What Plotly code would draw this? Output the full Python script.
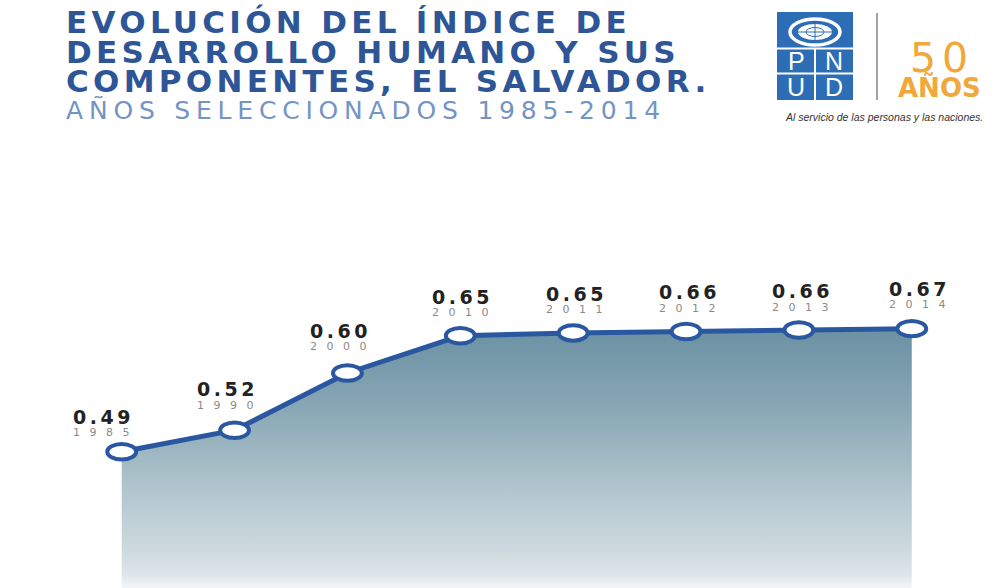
import plotly.graph_objects as go

# ---------------- data ----------------
years = ["1985", "1990", "2000", "2010", "2011", "2012", "2013", "2014"]
idh = [0.490, 0.520, 0.600, 0.652, 0.656, 0.658, 0.660, 0.662]
idh_labels = ["0.49", "0.52", "0.60", "0.65", "0.65", "0.66", "0.66", "0.67"]

title_lines = ["EVOLUCIÓN DEL ÍNDICE DE",
               "DESARROLLO HUMANO Y SUS",
               "COMPONENTES, EL SALVADOR."]
subtitle = "AÑOS SELECCIONADOS 1985-2014"
logo_letters = ["P", "N", "U", "D"]
logo_years = "50"
logo_word = "AÑOS"
tagline = "Al servicio de las personas y las naciones."

# ---------------- style ----------------
W, H = 998, 588
LINE_BLUE = "#2a58a0"
TITLE_BLUE = "#2e5596"
UN_BLUE = "#2d6db5"
ORANGE = "#f0a83a"

# label offsets (pixels) relative to each point (value cap-centre height above point)
label_dx = [-20, -9, -9, 0, 1, 1, 2, 6]
label_dy = [33, 39, 40, 37, 37, 37, 37, 38]


def px(x):
    return x / W


def py(y):
    return 1 - y / H


def spaced(text, spacing):
    """Letter-spaced text without trailing space after the last character."""
    head, tail = text[:-1], text[-1]
    return f"<span style='letter-spacing:{spacing}px'>{head}</span>{tail}"


xs = list(range(len(years)))

fig = go.Figure()

fig.add_trace(go.Scatter(
    x=xs, y=idh, mode="lines",
    line=dict(color=LINE_BLUE, width=5),
    fill="tozeroy",
    fillgradient=dict(
        type="vertical",
        colorscale=[[0.0, "#f3f6f7"], [0.05, "#dde6e9"], [0.15, "#cdd9de"],
                    [0.34, "#b6c9d0"], [0.53, "#9db6c1"], [0.72, "#85a5b4"],
                    [1.0, "#6b91a3"]],
        start=0.2995, stop=0.6625),
    hoverinfo="skip", showlegend=False,
))

shapes = []
# ellipse markers
for xi, v in zip(xs, idh):
    shapes.append(dict(type="circle", xref="x", yref="y",
                       x0=xi - 0.128, x1=xi + 0.128,
                       y0=v - 0.0108, y1=v + 0.0108,
                       line=dict(color=LINE_BLUE, width=4),
                       fillcolor="white", layer="above"))

# UNDP logo
shapes += [
    dict(type="rect", xref="paper", yref="paper", x0=px(777), x1=px(853),
         y0=py(100), y1=py(12), fillcolor=UN_BLUE, line=dict(width=0)),
    dict(type="circle", xref="paper", yref="paper", x0=px(790), x1=px(840),
         y0=py(45), y1=py(19), line=dict(color="white", width=3.5)),
    dict(type="circle", xref="paper", yref="paper", x0=px(798), x1=px(832),
         y0=py(40), y1=py(24), fillcolor="white", line=dict(width=0)),
    dict(type="circle", xref="paper", yref="paper", x0=px(806), x1=px(824),
         y0=py(36.5), y1=py(27.5), line=dict(color=UN_BLUE, width=1)),
    dict(type="line", xref="paper", yref="paper", x0=px(798), x1=px(832),
         y0=py(32), y1=py(32), line=dict(color=UN_BLUE, width=1)),
    dict(type="line", xref="paper", yref="paper", x0=px(815), x1=px(815),
         y0=py(24), y1=py(40), line=dict(color=UN_BLUE, width=1)),
    dict(type="line", xref="paper", yref="paper", x0=px(777), x1=px(853),
         y0=py(48.5), y1=py(48.5), line=dict(color="white", width=2)),
    dict(type="line", xref="paper", yref="paper", x0=px(777), x1=px(853),
         y0=py(73.5), y1=py(73.5), line=dict(color="white", width=2)),
    dict(type="line", xref="paper", yref="paper", x0=px(815), x1=px(815),
         y0=py(48.5), y1=py(100), line=dict(color="white", width=2)),
    dict(type="line", xref="paper", yref="paper", x0=px(877), x1=px(877),
         y0=py(13), y1=py(100), line=dict(color="#a3a3a3", width=2)),
]

ann = []
# value and year labels
for xi, v, lab, yr, dx, dy in zip(xs, idh, idh_labels, years, label_dx, label_dy):
    ann.append(dict(x=xi, y=v, xref="x", yref="y", showarrow=False,
                    text=spaced(lab, 3.5),
                    font=dict(family="DejaVu Sans", size=19, color="#222222", weight=700),
                    xanchor="center", yanchor="middle",
                    xshift=dx, yshift=dy + 2))
    ann.append(dict(x=xi, y=v, xref="x", yref="y", showarrow=False,
                    text=spaced(yr, 9.5),
                    font=dict(family="DejaVu Sans", size=11, color="#8a8a8a"),
                    xanchor="center", yanchor="middle",
                    xshift=dx, yshift=dy - 14))

# title
for line, yc in zip(title_lines, [22.5, 52, 81]):
    ann.append(dict(x=px(64), y=py(yc), xref="paper", yref="paper", showarrow=False,
                    text=f"<span style='letter-spacing:4.3px'>{line}</span>",
                    font=dict(family="DejaVu Sans", size=31, color=TITLE_BLUE, weight=700),
                    xanchor="left", yanchor="middle"))
ann.append(dict(x=px(64), y=py(110), xref="paper", yref="paper", showarrow=False,
                text=f"<span style='letter-spacing:5.8px'>{subtitle}</span>",
                font=dict(family="DejaVu Sans", size=25, color="#7394c4"),
                xanchor="left", yanchor="middle"))

# logo letters
for letter, (lx, ly) in zip(logo_letters, [(796, 61), (834, 61), (796, 87), (834, 87)]):
    ann.append(dict(x=px(lx), y=py(ly), xref="paper", yref="paper", showarrow=False,
                    text=letter,
                    font=dict(family="Liberation Sans", size=25, color="white"),
                    xanchor="center", yanchor="middle"))
ann.append(dict(x=px(939), y=py(58), xref="paper", yref="paper", showarrow=False,
                text=f"<span style='letter-spacing:6px'>{logo_years}</span>",
                font=dict(family="DejaVu Sans", size=41, color=ORANGE, weight=400),
                xanchor="center", yanchor="middle", xshift=3))
ann.append(dict(x=px(939), y=py(87), xref="paper", yref="paper", showarrow=False,
                text=logo_word,
                font=dict(family="DejaVu Sans", size=26, color=ORANGE, weight=700),
                xanchor="center", yanchor="middle"))
ann.append(dict(x=px(884), y=py(117), xref="paper", yref="paper", showarrow=False,
                text=f"<i>{tagline}</i>",
                font=dict(family="Liberation Sans", size=10.5, color="#333333"),
                xanchor="center", yanchor="middle"))

fig.update_layout(
    width=W, height=H, autosize=False,
    margin=dict(l=0, r=0, t=0, b=0, pad=0),
    paper_bgcolor="white", plot_bgcolor="white",
    xaxis=dict(visible=False, range=[-1.0783, 7.764], fixedrange=True),
    yaxis=dict(visible=False, range=[0.2995, 1.1213], fixedrange=True),
    shapes=shapes, annotations=ann,
    showlegend=False,
)

fig.write_html("out.html", config={"displayModeBar": False},
               post_script="document.body.style.margin='0';")
